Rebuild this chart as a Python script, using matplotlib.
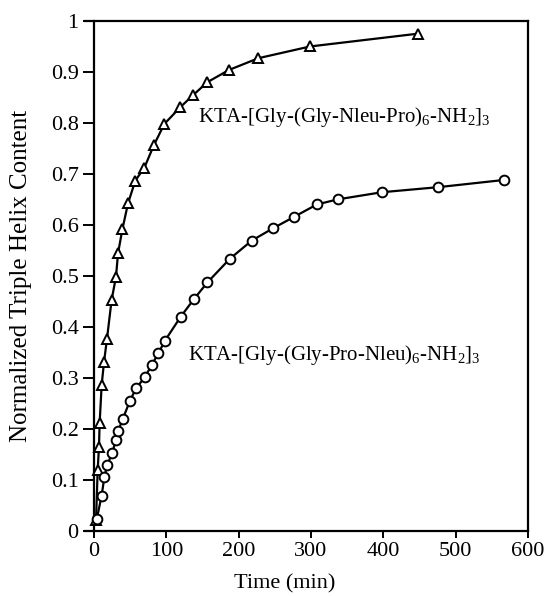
import matplotlib
matplotlib.use("Agg")
import matplotlib.pyplot as plt
import matplotlib.ticker as mticker

plt.rcParams["font.family"] = ["Liberation Serif", "DejaVu Serif"]
plt.rcParams["mathtext.fontset"] = "custom"
plt.rcParams["mathtext.rm"] = "Liberation Serif"
plt.rcParams["mathtext.it"] = "Liberation Serif:italic"

# ── Data ──────────────────────────────────────────────────────────────────
tri_time = [2.8, 5.1, 6.9, 7.8, 10.6, 13.8, 18.0, 24.4, 30.4, 33.2, 39.2, 47.0,
            57.2, 69.6, 83.0, 97.3, 119.4, 137.4, 156.8, 186.8, 227.3, 298.8, 447.3]
tri_helix = [0.021, 0.119, 0.165, 0.211, 0.286, 0.330, 0.377, 0.453, 0.498, 0.544,
             0.591, 0.642, 0.687, 0.712, 0.757, 0.798, 0.831, 0.855, 0.880, 0.904,
             0.927, 0.950, 0.975]

circ_time = [3.7, 10.6, 14.3, 18.4, 25.3, 30.0, 33.6, 39.7, 49.8, 58.1, 70.6, 79.8,
             89.0, 98.2, 120.0, 138.0, 156.8, 187.5, 218.0, 247.2, 277.1, 308.1,
             337.0, 398.0, 476.3, 566.3]
circ_helix = [0.022, 0.069, 0.105, 0.129, 0.153, 0.177, 0.196, 0.219, 0.255, 0.279,
              0.302, 0.325, 0.348, 0.373, 0.420, 0.454, 0.487, 0.533, 0.569, 0.593,
              0.616, 0.640, 0.650, 0.664, 0.674, 0.688]

x_ticks = [0, 100, 200, 300, 400, 500, 600]
y_ticks = [0, 0.1, 0.2, 0.3, 0.4, 0.5, 0.6, 0.7, 0.8, 0.9, 1.0]
y_tick_labels = ["0", "0.1", "0.2", "0.3", "0.4", "0.5", "0.6", "0.7", "0.8", "0.9", "1"]

label_nleu_pro = "KTA-[Gly-(Gly-Nleu-Pro)$_6$-NH$_2$]$_3$"
label_pro_nleu = "KTA-[Gly-(Gly-Pro-Nleu)$_6$-NH$_2$]$_3$"

# ── Chart ─────────────────────────────────────────────────────────────────
fig = plt.figure(figsize=(5.44, 5.96), dpi=100)
ax = fig.add_axes([0.1555, 0.1096, 0.815, 0.8552])

ax.plot(tri_time, tri_helix, color="black", linewidth=1.6, marker="^",
        markersize=7, markerfacecolor="white", markeredgecolor="black",
        markeredgewidth=1.4, zorder=3)
ax.plot(circ_time, circ_helix, color="black", linewidth=1.6, marker="o",
        markersize=7, markerfacecolor="white", markeredgecolor="black",
        markeredgewidth=1.4, zorder=3)

ax.text(144, 0.802, label_nleu_pro, fontsize=15, ha="left", va="baseline")
ax.text(130.5, 0.335, label_pro_nleu, fontsize=15, ha="left", va="baseline")

ax.set_xlim(-13, 600)
ax.set_ylim(0, 1)
ax.spines["left"].set_position(("data", 0))
for sp in ax.spines.values():
    sp.set_linewidth(1.6)

ax.set_xticks(x_ticks)
ax.set_yticks(y_ticks)
ax.yaxis.set_major_formatter(mticker.FixedFormatter(y_tick_labels))
ax.tick_params(axis="both", direction="out", labelsize=16, width=1.4)
ax.tick_params(axis="y", length=8, pad=3)
ax.tick_params(axis="x", length=5, pad=3)

ax.set_xlabel("Time (min)", fontsize=16)
ax.set_ylabel("Normalized Triple Helix Content", fontsize=18)
ax.xaxis.set_label_coords(0.452, -0.086)
ax.yaxis.set_label_coords(-0.119, 0.5)

fig.savefig("out.png", dpi=100)
